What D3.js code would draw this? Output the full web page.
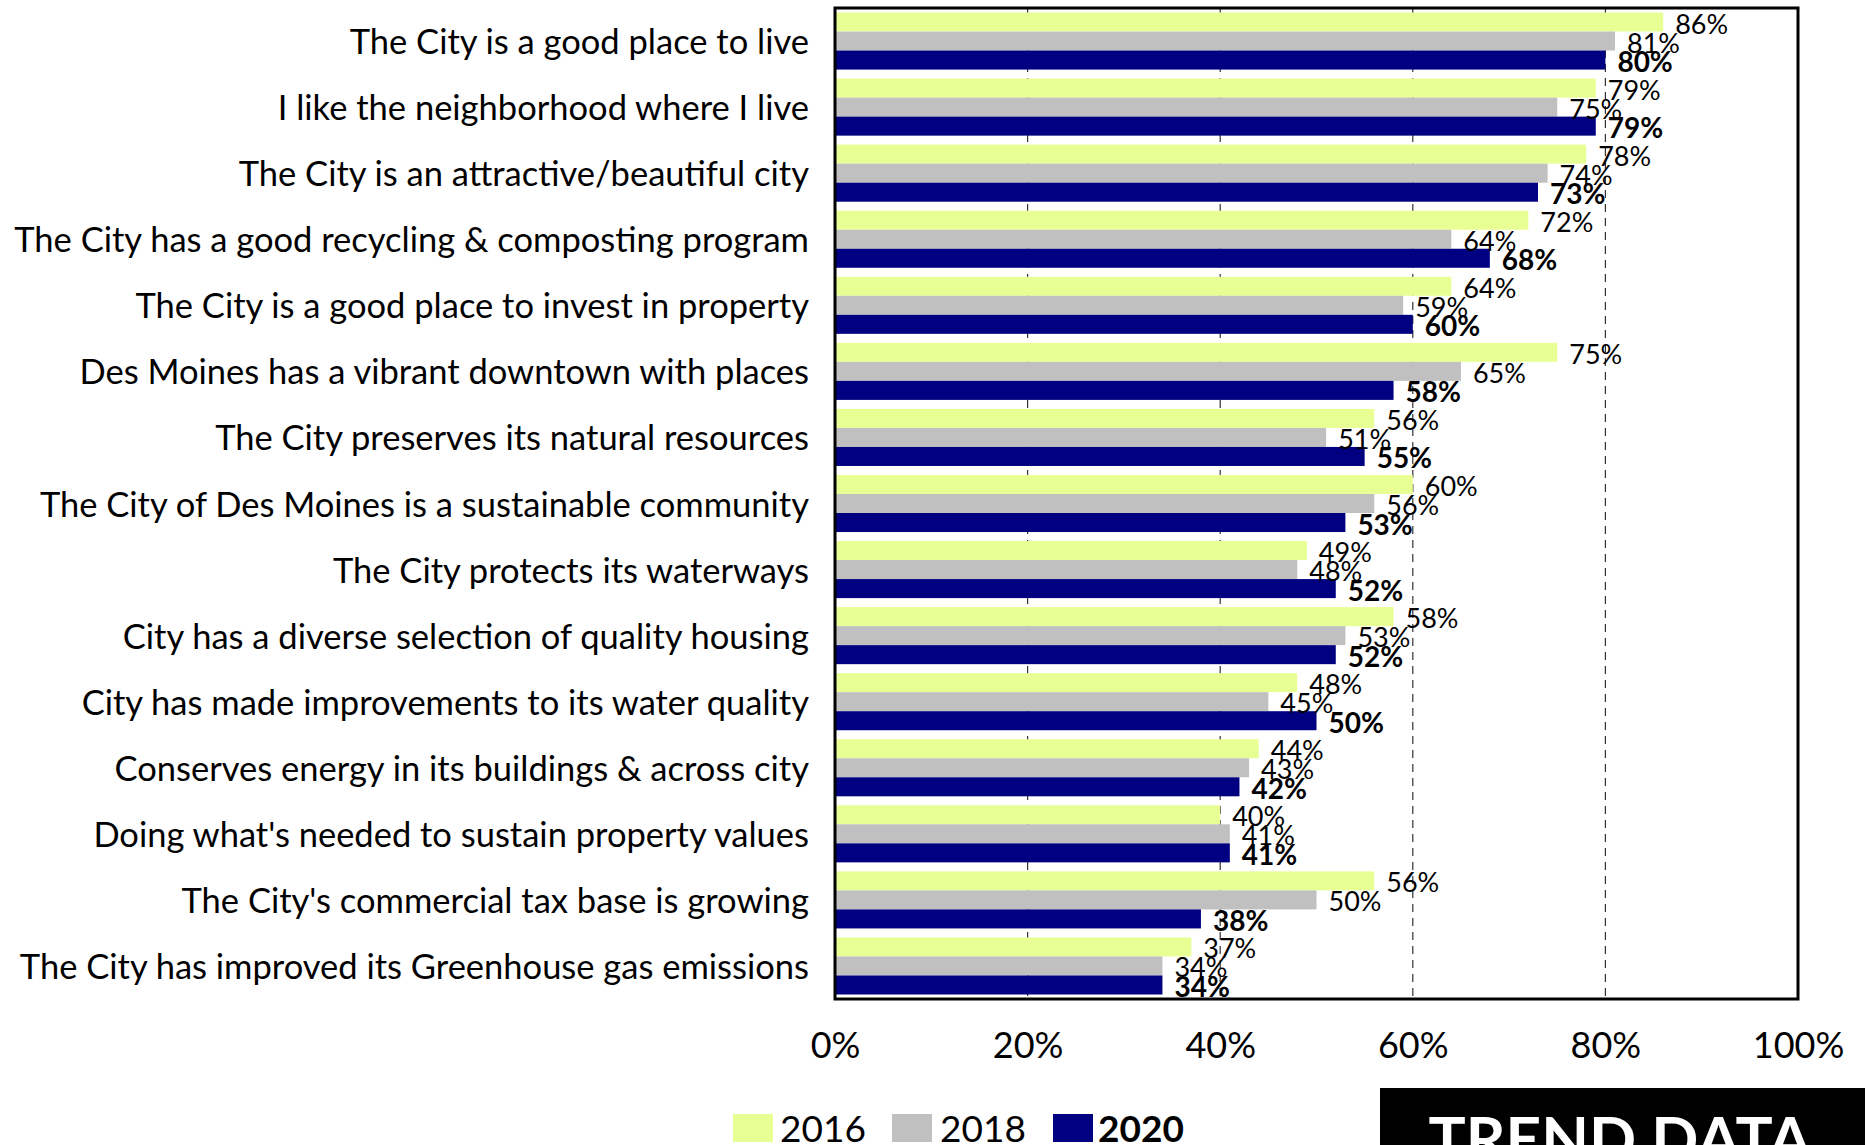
<!DOCTYPE html>
<html>
<head>
<meta charset="utf-8">
<script src="https://cdn.jsdelivr.net/npm/d3@7"></script>
<style>
  html, body { margin: 0; padding: 0; background: #fff; }
  svg { display: block; }
  text { font-family: Lato, "Open Sans", sans-serif; fill: #000; }
</style>
</head>
<body>
<svg id="chart" width="1865" height="1145"></svg>
<script>
const categories = [
  "The City is a good place to live",
  "I like the neighborhood where I live",
  "The City is an attractive/beautiful city",
  "The City has a good recycling & composting program",
  "The City is a good place to invest in property",
  "Des Moines has a vibrant downtown with places",
  "The City preserves its natural resources",
  "The City of Des Moines is a sustainable community",
  "The City protects its waterways",
  "City has a diverse selection of quality housing",
  "City has made improvements to its water quality",
  "Conserves energy in its buildings & across city",
  "Doing what's needed to sustain property values",
  "The City's commercial tax base is growing",
  "The City has improved its Greenhouse gas emissions"
];
const years = ["2016", "2018", "2020"];
const values2016 = [86, 79, 78, 72, 64, 75, 56, 60, 49, 58, 48, 44, 40, 56, 37];
const values2018 = [81, 75, 74, 64, 59, 65, 51, 56, 48, 53, 45, 43, 41, 50, 34];
const values2020 = [80, 79, 73, 68, 60, 58, 55, 53, 52, 52, 50, 42, 41, 38, 34];
const xTicks = [0, 20, 40, 60, 80, 100];
const gridTicks = [20, 40, 60, 80];
const badgeText = "TREND DATA";

const series = [values2016, values2018, values2020];
const colors = ["#e8ff94", "#c0c0c0", "#000080"];

const svg = d3.select("#chart");
const plot = { left: 835, right: 1798, top: 8, bottom: 999 };

const x = d3.scaleLinear().domain([0, 100]).range([plot.left, plot.right]);
const y = d3.scaleBand().domain(categories).range([plot.top, plot.bottom]).padding(0);
const inset = 4.5;
const yInner = d3.scaleBand().domain(years).range([inset, y.bandwidth() - inset]).padding(0);

// gridlines
svg.append("g").selectAll("line").data(gridTicks).join("line")
  .attr("x1", d => x(d)).attr("x2", d => x(d))
  .attr("y1", plot.top).attr("y2", plot.bottom)
  .attr("stroke", "#333").attr("stroke-width", 1.2)
  .attr("stroke-dasharray", "8,6");

// bars
const groups = svg.append("g").selectAll("g").data(categories).join("g")
  .attr("transform", d => `translate(0,${y(d)})`);

years.forEach((yr, si) => {
  groups.append("rect")
    .attr("x", x(0))
    .attr("y", yInner(yr))
    .attr("width", (d, i) => x(series[si][i]) - x(0))
    .attr("height", yInner.bandwidth())
    .attr("fill", colors[si]);
});

years.forEach((yr, si) => {
  groups.append("text")
    .attr("x", (d, i) => x(series[si][i]) + 12)
    .attr("y", yInner(yr) + yInner.bandwidth() / 2 + 1)
    .attr("dominant-baseline", "central")
    .attr("font-size", si === 2 ? 28 : 27)
    .attr("font-weight", si === 2 ? "bold" : "normal")
    .text((d, i) => series[si][i] + "%");
});

// frame
svg.append("rect")
  .attr("x", plot.left).attr("y", plot.top)
  .attr("width", plot.right - plot.left).attr("height", plot.bottom - plot.top)
  .attr("fill", "none").attr("stroke", "#000").attr("stroke-width", 3);

// category axis
const yAxis = svg.append("g")
  .attr("transform", `translate(${plot.left},2)`)
  .call(d3.axisLeft(y).tickSize(0).tickPadding(26));
yAxis.select(".domain").remove();
yAxis.selectAll("text")
  .attr("font-size", 34.5)
  .style("font-family", "Lato, sans-serif")
  .attr("fill", "#000");

// x axis labels
const xAxis = svg.append("g")
  .attr("transform", `translate(0,${plot.bottom})`)
  .call(d3.axisBottom(x).tickValues(xTicks).tickSize(0).tickFormat(d => d + "%"));
xAxis.select(".domain").remove();
xAxis.selectAll("text")
  .attr("y", 59).attr("dy", null)
  .attr("font-size", 36)
  .style("font-family", "Lato, sans-serif")
  .attr("fill", "#000");

// legend
const legendItems = [
  { label: years[0], x: 733, textX: 780, bold: false },
  { label: years[1], x: 892, textX: 940, bold: false },
  { label: years[2], x: 1053, textX: 1098, bold: true }
];
const legend = svg.append("g");
legendItems.forEach((it, i) => {
  legend.append("rect").attr("x", it.x).attr("y", 1114).attr("width", 40).attr("height", 28).attr("fill", colors[i]);
  legend.append("text").attr("x", it.textX).attr("y", 1142)
    .attr("font-size", 37).attr("font-weight", it.bold ? "bold" : "normal").text(it.label);
});

// badge
svg.append("rect").attr("x", 1380).attr("y", 1088).attr("width", 500).attr("height", 80).attr("fill", "#000");
svg.append("text").attr("x", 1620).attr("y", 1161).attr("text-anchor", "middle")
  .attr("font-size", 62).attr("font-weight", "bold").style("fill", "#fff").text(badgeText);
</script>
</body>
</html>
